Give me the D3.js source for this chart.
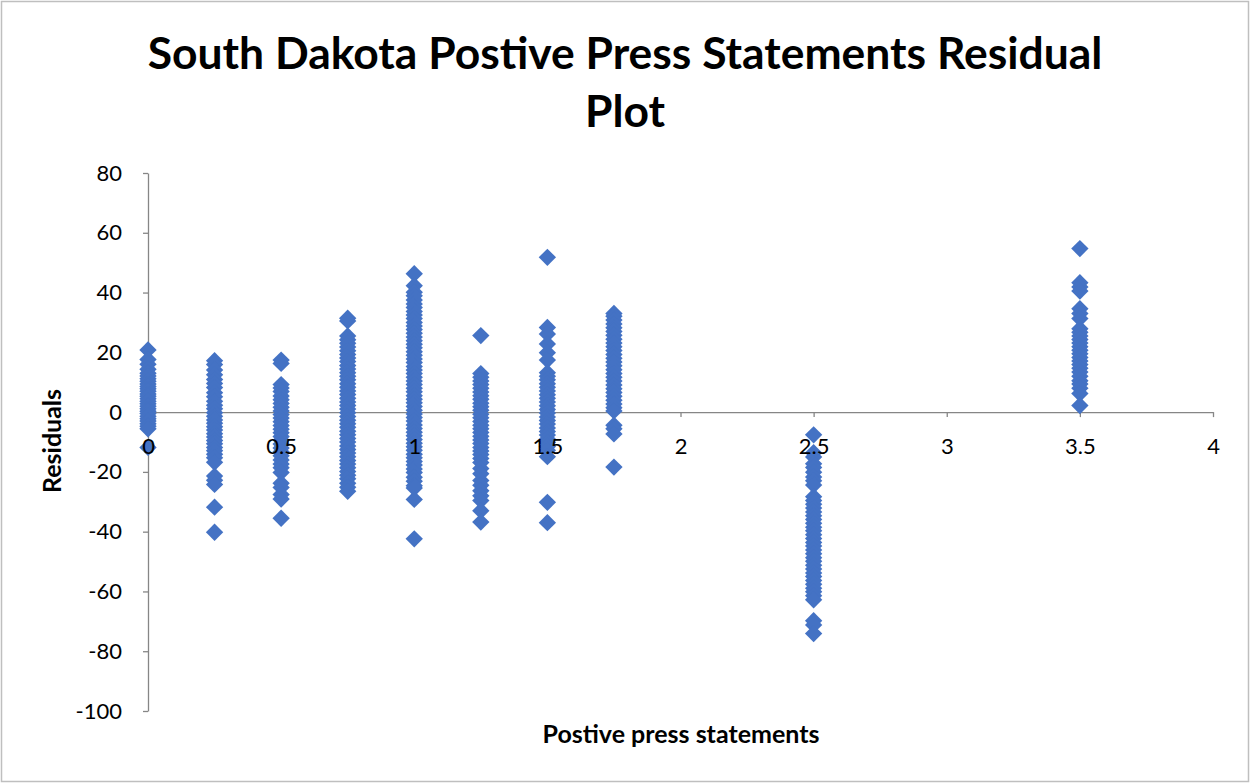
<!DOCTYPE html>
<html>
<head>
<meta charset="utf-8">
<script src="https://cdn.jsdelivr.net/npm/d3@7"></script>
<style>
  body { margin: 0; background: #fff; }
  svg { display: block; }
</style>
</head>
<body>
<svg></svg>
<script>
// x positions of the columns of residuals
let xValues = [0, 0.25, 0.5, 0.75, 1, 1.25, 1.5, 1.75, 2.5, 3.5]

// residuals, one list per x position
let res0 = [20.8, 17.6, 16.0, 14.3, 13.0, 12.1, 11.2, 10.3, 9.4, 8.6, 7.8, 7.0, 6.1, 5.3, 4.5, 3.6, 2.8, 2.0, 1.1, 0.3, -0.5, -1.4, -2.2, -3.0, -3.9, -4.7, -5.6, -11.8]
let res025 = [17.2, 15.9, 14.1, 12.5, 10.9, 9.6, 8.2, 6.5, 5.1, 3.6, 2.3, 1.1, -0.2, -1.4, -2.6, -3.7, -4.9, -6.0, -7.2, -8.3, -9.5, -10.6, -11.8, -12.9, -14.1, -15.3, -16.8, -21.4, -22.8, -24.2, -31.8, -40.2]
let res05 = [17.4, 16.3, 9.2, 8.1, 6.9, 5.4, 4.1, 2.9, 1.6, 0.4, -0.8, -2.0, -3.2, -4.5, -5.7, -6.9, -8.2, -9.4, -10.7, -12.0, -13.3, -14.6, -16.0, -17.4, -18.6, -20.2, -23.8, -25.2, -27.6, -29.1, -35.5]
let res075 = [31.4, 30.5, 25.5, 24.2, 23.0, 21.8, 20.5, 19.3, 18.1, 16.9, 15.6, 14.4, 13.2, 12.0, 10.8, 9.5, 8.3, 7.1, 5.9, 4.6, 3.4, 2.2, 1.0, -0.2, -1.5, -2.7, -3.9, -5.1, -6.4, -7.6, -8.8, -10.0, -11.3, -12.5, -13.7, -14.9, -16.2, -17.4, -18.6, -19.9, -21.1, -22.3, -23.8, -25.1, -26.5]
let res1 = [46.3, 42.3, 40.1, 38.9, 37.5, 36.2, 35.0, 33.7, 32.5, 31.3, 30.0, 28.8, 27.6, 26.4, 25.1, 23.9, 22.7, 21.5, 20.2, 19.0, 17.8, 16.6, 15.3, 14.1, 12.9, 11.7, 10.4, 9.2, 8.0, 6.8, 5.5, 4.3, 3.1, 1.9, 0.6, -0.6, -1.8, -3.0, -4.3, -5.5, -6.7, -7.9, -9.2, -10.4, -11.6, -12.8, -14.1, -15.3, -16.5, -17.7, -19.0, -20.2, -21.8, -23.1, -24.6, -25.4, -29.2, -42.4]
let res125 = [25.6, 12.9, 11.7, 10.4, 9.2, 8.0, 6.7, 5.5, 4.3, 3.0, 1.8, 0.6, -0.7, -1.9, -3.1, -4.4, -5.6, -6.8, -8.1, -9.3, -10.5, -11.8, -13.0, -14.2, -15.5, -16.9, -18.9, -20.6, -22.9, -24.5, -26.3, -28.0, -29.6, -33.0, -36.8]
let res15 = [51.8, 28.3, 26.1, 22.8, 19.9, 17.4, 13.2, 12.0, 10.8, 9.5, 8.3, 7.1, 5.8, 4.6, 3.4, 2.1, 0.9, -0.3, -1.6, -2.8, -4.0, -5.3, -6.5, -7.7, -9.0, -10.2, -11.5, -12.8, -14.9, -30.2, -37.0]
let res175 = [33.0, 32.1, 30.8, 29.5, 28.2, 27.0, 25.7, 24.4, 23.1, 21.9, 20.6, 19.3, 18.0, 16.8, 15.5, 14.2, 12.9, 11.7, 10.4, 9.1, 7.8, 6.6, 5.3, 4.0, 2.7, 1.5, 0.4, -4.4, -5.6, -7.3, -18.4]
let res25 = [-7.6, -13.6, -15.0, -17.3, -18.5, -20.1, -21.7, -23.0, -24.4, -28.3, -29.6, -30.8, -32.1, -33.4, -34.7, -35.9, -37.2, -38.5, -39.7, -41.0, -42.3, -43.6, -44.8, -46.1, -47.4, -48.7, -49.9, -51.2, -52.5, -53.8, -55.0, -56.3, -57.6, -58.9, -60.1, -61.4, -62.8, -69.8, -71.2, -74.1]
let res35 = [54.7, 43.3, 41.9, 40.5, 34.6, 33.0, 31.3, 27.9, 26.7, 25.5, 24.3, 23.1, 21.9, 20.7, 19.5, 18.3, 17.1, 15.9, 14.7, 13.4, 12.0, 10.5, 9.4, 8.0, 6.2, 2.2]

let residualColumns = [res0, res025, res05, res075, res1, res125, res15, res175, res25, res35]

let xTicks = [0, 0.5, 1, 1.5, 2, 2.5, 3, 3.5, 4]
let yTicks = [80, 60, 40, 20, 0, -20, -40, -60, -80, -100]

let titleLines = ['South Dakota Postive Press Statements Residual', 'Plot']
let xTitle = 'Postive press statements'
let yTitle = 'Residuals'

let width = 1250
let height = 783
let plotLeft = 148
let plotRight = 1213
let plotTop = 173
let plotBottom = 711
let font = 'Lato, "Open Sans", sans-serif'

let points = []
residualColumns.forEach((col, i) => {
    col.forEach((r) => {
        points.push({x: xValues[i], y: r})
    })
})

let svg = d3.select('svg')
    .attr('width', width)
    .attr('height', height)

svg.append('rect')
    .attr('x', 1.5)
    .attr('y', 1.5)
    .attr('width', width - 3)
    .attr('height', height - 3)
    .attr('fill', '#fff')
    .attr('stroke', '#bfbfbf')
    .attr('stroke-width', 1.5)

let xScale = d3.scaleLinear().domain([0, 4]).range([plotLeft, plotRight])
let yScale = d3.scaleLinear().domain([-100, 80]).range([plotBottom, plotTop])

// plain hyphen for negatives, like the original
let plain = (d) => String(d)

let xAxis = d3.axisBottom(xScale)
    .tickValues(xTicks)
    .tickFormat(plain)
    .tickSize(5)
    .tickSizeOuter(0)
    .tickPadding(21)

let yAxis = d3.axisLeft(yScale)
    .tickValues(yTicks)
    .tickFormat(plain)
    .tickSize(5)
    .tickSizeOuter(0)
    .tickPadding(21)

let styleAxis = (g) => {
    g.selectAll('path, line')
        .attr('stroke', '#868686')
        .attr('stroke-width', 1.3)
    g.selectAll('text')
        .attr('fill', '#000')
        .style('font-family', font)
        .style('font-size', '22px')
}

// lines first, under the markers
let yLines = svg.append('g')
    .attr('transform', 'translate(' + plotLeft + ',0)')
    .call(yAxis)
    .call(styleAxis)
yLines.selectAll('text').remove()

let xLines = svg.append('g')
    .attr('transform', 'translate(0,' + yScale(0) + ')')
    .call(xAxis)
    .call(styleAxis)
xLines.selectAll('text').remove()

let diamond = d3.symbol().type(d3.symbolSquare).size(150)

svg.append('g')
    .selectAll('path')
    .data(points)
    .enter()
    .append('path')
    .attr('d', diamond)
    .attr('fill', '#4472c4')
    .attr('transform', (d) => {
        return 'translate(' + xScale(d.x) + ',' + yScale(d.y) + ') rotate(45)'
    })

// tick labels on top of the markers
let yLabels = svg.append('g')
    .attr('transform', 'translate(' + plotLeft + ',0)')
    .call(yAxis)
    .call(styleAxis)
yLabels.selectAll('path, line').remove()

let xLabels = svg.append('g')
    .attr('transform', 'translate(0,' + yScale(0) + ')')
    .call(xAxis)
    .call(styleAxis)
xLabels.selectAll('path, line').remove()

// title
let title = svg.append('g')
titleLines.forEach((t, i) => {
    title.append('text')
        .attr('x', 625)
        .attr('y', 69 + i * 58)
        .attr('text-anchor', 'middle')
        .style('font-family', font)
        .style('font-weight', 'bold')
        .style('font-size', '40px')
        .text(t)
})
// fit the first line to the width seen in the picture
let firstLine = title.select('text').node()
let w = firstLine.getComputedTextLength()
let titleSize = 40 * 955 / w
title.selectAll('text').style('font-size', titleSize + 'px')

svg.append('text')
    .attr('x', 681)
    .attr('y', 743)
    .attr('text-anchor', 'middle')
    .style('font-family', font)
    .style('font-weight', 'bold')
    .style('font-size', '25px')
    .text(xTitle)

svg.append('text')
    .attr('transform', 'translate(61,441) rotate(-90)')
    .attr('text-anchor', 'middle')
    .style('font-family', font)
    .style('font-weight', 'bold')
    .style('font-size', '25px')
    .text(yTitle)
</script>
</body>
</html>
